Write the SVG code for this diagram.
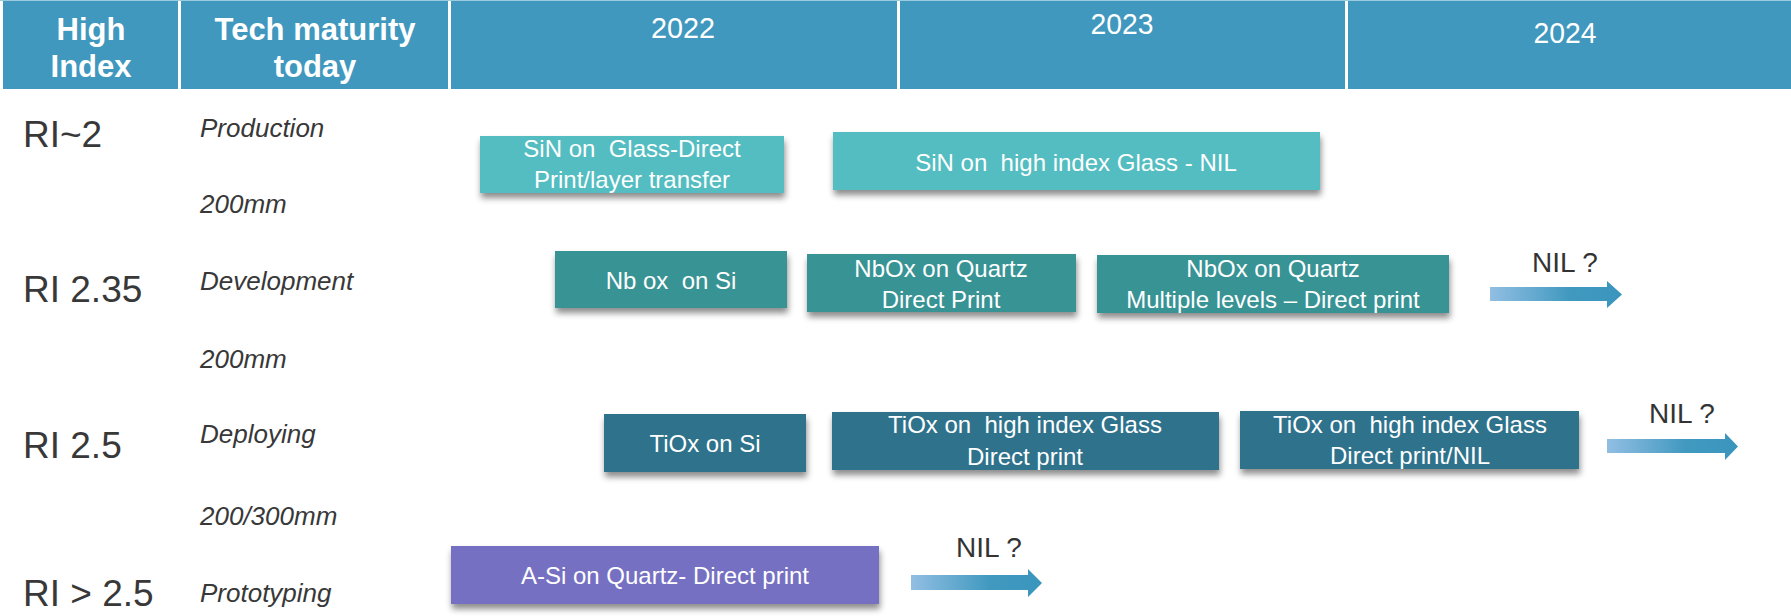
<svg xmlns="http://www.w3.org/2000/svg" width="1791" height="616" viewBox="0 0 1791 616">
<defs>
<style>
.hd{fill:#4098BE}
.ht{font-family:"Liberation Sans",Arial,sans-serif;font-weight:bold;font-size:31px;fill:#fff;text-anchor:middle}
.yr{font-family:"Liberation Sans",Arial,sans-serif;font-size:30px;fill:#fff;text-anchor:middle}
.ri{font-family:"Liberation Sans",Arial,sans-serif;font-size:37px;fill:#383838}
.it{font-family:"Liberation Sans",Arial,sans-serif;font-style:italic;font-size:26px;fill:#383838}
.bt{font-family:"Liberation Sans",Arial,sans-serif;font-size:24px;fill:#fff;text-anchor:middle;white-space:pre}
.nil{font-family:"Liberation Sans",Arial,sans-serif;font-size:28px;fill:#333;text-anchor:middle}
.sin{fill:#53BDC1}
.nb{fill:#379395}
.ti{fill:#2F728C}
.asi{fill:#7670C2}
.box{filter:url(#sh)}
.arr{fill:url(#ag)}
</style>
<filter id="sh" x="-10%" y="-30%" width="120%" height="180%">
<feDropShadow dx="1" dy="5" stdDeviation="3" flood-color="#000" flood-opacity="0.45"/>
</filter>
<linearGradient id="ag" x1="0" y1="0" x2="1" y2="0">
<stop offset="0" stop-color="#92BEE3"/>
<stop offset="0.6" stop-color="#4199C0"/>
<stop offset="1" stop-color="#3A95BC"/>
</linearGradient>
</defs>

<g id="header">
<rect x="0" y="0" width="1791" height="1" fill="#9CCBE0"/>
<rect class="hd" x="3" y="1" width="175" height="88"/>
<rect class="hd" x="181" y="1" width="267" height="88"/>
<rect class="hd" x="451" y="1" width="446" height="88"/>
<rect class="hd" x="900" y="1" width="445" height="88"/>
<rect class="hd" x="1348" y="1" width="443" height="88"/>
<text class="ht" x="91" y="40">High</text>
<text class="ht" x="91" y="77">Index</text>
<text class="ht" x="315" y="40">Tech maturity</text>
<text class="ht" x="315" y="77">today</text>
<text class="yr" x="683" y="38" textLength="64" lengthAdjust="spacingAndGlyphs">2022</text>
<text class="yr" x="1122" y="34" textLength="63" lengthAdjust="spacingAndGlyphs">2023</text>
<text class="yr" x="1565" y="43" textLength="63" lengthAdjust="spacingAndGlyphs">2024</text>
</g>

<g id="row-labels">
<text class="ri" x="23" y="147">RI~2</text>
<text class="ri" x="23" y="302">RI 2.35</text>
<text class="ri" x="23" y="458">RI 2.5</text>
<text class="ri" x="23" y="606">RI &gt; 2.5</text>
<text class="it" x="200" y="137">Production</text>
<text class="it" x="200" y="213">200mm</text>
<text class="it" x="200" y="290">Development</text>
<text class="it" x="200" y="368">200mm</text>
<text class="it" x="200" y="443">Deploying</text>
<text class="it" x="200" y="525">200/300mm</text>
<text class="it" x="200" y="602">Prototyping</text>
</g>

<g id="node-sin-glass">
<rect class="box sin" x="480" y="136" width="304" height="57"/>
<text class="bt" x="632" y="157">SiN on  Glass-Direct</text>
<text class="bt" x="632" y="188">Print/layer transfer</text>
</g>
<g id="node-sin-higlass">
<rect class="box sin" x="833" y="132" width="487" height="58"/>
<text class="bt" x="1076" y="171">SiN on  high index Glass - NIL</text>
</g>

<g id="node-nbox-si">
<rect class="box nb" x="555" y="251" width="232" height="57"/>
<text class="bt" x="671" y="289">Nb ox  on Si</text>
</g>
<g id="node-nbox-quartz">
<rect class="box nb" x="807" y="254" width="269" height="58"/>
<text class="bt" x="941" y="277">NbOx on Quartz</text>
<text class="bt" x="941" y="308">Direct Print</text>
</g>
<g id="node-nbox-multi">
<rect class="box nb" x="1097" y="255" width="352" height="58"/>
<text class="bt" x="1273" y="277">NbOx on Quartz</text>
<text class="bt" x="1273" y="308">Multiple levels – Direct print</text>
</g>

<g id="node-tiox-si">
<rect class="box ti" x="604" y="414" width="202" height="58"/>
<text class="bt" x="705" y="452">TiOx on Si</text>
</g>
<g id="node-tiox-glass">
<rect class="box ti" x="832" y="412" width="387" height="58"/>
<text class="bt" x="1025" y="433">TiOx on  high index Glass</text>
<text class="bt" x="1025" y="465">Direct print</text>
</g>
<g id="node-tiox-glass-nil">
<rect class="box ti" x="1240" y="411" width="339" height="58"/>
<text class="bt" x="1410" y="433">TiOx on  high index Glass</text>
<text class="bt" x="1410" y="464">Direct print/NIL</text>
</g>

<g id="node-asi">
<rect class="box asi" x="451" y="546" width="428" height="58"/>
<text class="bt" x="665" y="584">A-Si on Quartz- Direct print</text>
</g>

<g id="connectors">
<polygon class="arr" points="1490,287 1607,287 1607,281 1622,294.5 1607,308 1607,301 1490,301"/>
<text class="nil" x="1565" y="272">NIL ?</text>
<polygon class="arr" points="1607,439 1725,439 1725,433 1738,446.5 1725,460 1725,453 1607,453"/>
<text class="nil" x="1682" y="423">NIL ?</text>
<polygon class="arr" points="911,575 1028,575 1028,569 1042,583 1028,597 1028,590 911,590"/>
<text class="nil" x="989" y="557">NIL ?</text>
</g>
</svg>
